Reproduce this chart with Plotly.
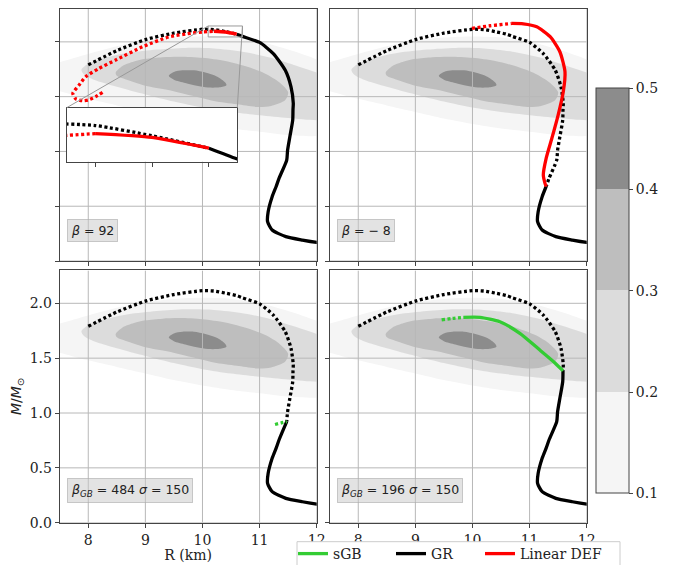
import plotly.graph_objects as go

# ---------------- data ----------------
# GR mass-radius curve, ordered from the high-mass end to the low-mass end
GR_R = [8.0, 8.5, 9.0, 9.5, 10.0, 10.2, 10.4, 10.6, 10.7, 11.0, 11.24, 11.45, 11.55, 11.59,
        11.585, 11.58, 11.53, 11.49, 11.475, 11.34, 11.29, 11.22, 11.15, 11.14, 11.22, 11.46,
        11.75, 12.0, 12.3]
GR_M = [1.79, 1.92, 2.02, 2.08, 2.115, 2.112, 2.093, 2.07, 2.05, 1.995, 1.893, 1.741, 1.59, 1.44,
        1.385, 1.285, 1.134, 1.01, 0.921, 0.754, 0.68, 0.587, 0.45, 0.359, 0.283, 0.222,
        0.191, 0.17, 0.155]
# index on GR curve where the dotted part ends in each panel
GR_SPLIT = [7, 20, 18, 14]

# Linear DEF, beta = 92 (panel 1)
DEF92_DOT_R = [8.25, 8.13, 8.0, 7.9, 7.78, 7.73, 7.84, 7.955, 8.19, 8.48, 8.95, 9.41, 9.82, 10.0, 10.2]
DEF92_DOT_M = [1.54, 1.50, 1.47, 1.463, 1.48, 1.53, 1.606, 1.682, 1.758, 1.834, 1.955, 2.045, 2.08, 2.09, 2.097]
DEF92_SOL_R = [10.2, 10.4, 10.6]
DEF92_SOL_M = [2.097, 2.09, 2.07]

# Linear DEF, beta = -8 (panel 2)
DEFM8_DOT_R = [9.99, 10.31, 10.69]
DEFM8_DOT_M = [2.123, 2.147, 2.168]
DEFM8_SOL_R = [10.69, 10.89, 11.125, 11.36, 11.53, 11.62, 11.59, 11.50, 11.39, 11.29, 11.24, 11.27, 11.29]
DEFM8_SOL_M = [2.168, 2.165, 2.138, 2.047, 1.91, 1.727, 1.545, 1.332, 1.12, 0.937, 0.785, 0.709, 0.68]

# sGB, beta_GB = 484 (panel 3)
SGB484_DOT_R = [11.27, 11.38, 11.475]
SGB484_DOT_M = [0.895, 0.91, 0.921]

# sGB, beta_GB = 196 (panel 4)
SGB196_DOT_R = [9.46, 9.65, 9.84]
SGB196_DOT_M = [1.848, 1.862, 1.872]
SGB196_SOL_R = [9.84, 10.13, 10.48, 10.83, 11.18, 11.42, 11.585]
SGB196_SOL_M = [1.872, 1.872, 1.832, 1.726, 1.574, 1.468, 1.385]

# probability-density contours (boundaries of filled levels)
C1_R = [7.0, 7.5, 8.0, 8.5, 9.0, 9.5, 10.0, 10.5, 11.0, 11.5, 12.0, 12.5, 12.8, 12.5, 12.0,
        11.5, 11.0, 10.5, 10.0, 9.5, 9.0, 8.5, 8.0, 7.5, 7.0, 6.8]
C1_M = [1.74, 1.815, 1.89, 1.96, 2.01, 2.04, 2.05, 2.04, 2.0, 1.93, 1.84, 1.72, 1.45, 1.18, 1.14,
        1.15, 1.18, 1.21, 1.25, 1.30, 1.36, 1.42, 1.48, 1.55, 1.62, 1.68]
C2_R = [7.88, 8.0, 8.3, 8.7, 9.2, 9.7, 10.2, 10.7, 11.2, 11.6, 12.0, 12.4, 12.6, 12.4, 12.0,
        11.5, 11.0, 10.5, 10.0, 9.5, 9.0, 8.5, 8.1, 7.93]
C2_M = [1.745, 1.80, 1.855, 1.90, 1.93, 1.945, 1.94, 1.91, 1.855, 1.79, 1.72, 1.62, 1.45, 1.30,
        1.285, 1.305, 1.33, 1.36, 1.40, 1.455, 1.52, 1.59, 1.655, 1.70]
C3_R = [8.48, 8.6, 8.8, 9.0, 9.3, 9.6, 10.0, 10.4, 10.8, 11.1, 11.35, 11.5, 11.45, 11.2, 11.0,
        10.6, 10.2, 9.8, 9.4, 9.0, 8.7, 8.5]
C3_M = [1.72, 1.78, 1.82, 1.845, 1.86, 1.865, 1.855, 1.825, 1.77, 1.71, 1.63, 1.54, 1.47, 1.415,
        1.405, 1.43, 1.46, 1.51, 1.56, 1.60, 1.65, 1.69]
C4_R = [9.41, 9.5, 9.65, 9.85, 10.05, 10.25, 10.40, 10.42, 10.3, 10.1, 9.9, 9.7, 9.5]
C4_M = [1.69, 1.725, 1.74, 1.74, 1.72, 1.685, 1.63, 1.605, 1.585, 1.583, 1.60, 1.625, 1.655]
LEVELS = [0.1, 0.2, 0.3, 0.4, 0.5]
LEVEL_COLORS = ["#f5f5f5", "#dcdcdc", "#bebebe", "#8c8c8c"]

PANEL_LABELS = ["<i>β</i> = 92", "<i>β</i> = − 8",
                "<i>β</i><sub><i>GB</i></sub> = 484 <i>σ</i> = 150",
                "<i>β</i><sub><i>GB</i></sub> = 196 <i>σ</i> = 150"]
LEGEND_NAMES = ["sGB", "GR", "Linear DEF"]
X_TICKS = [8, 9, 10, 11, 12]
Y_TICKS = [0.0, 0.5, 1.0, 1.5, 2.0]
X_RANGE = [7.5, 12]
Y_RANGE = [0, 2.3]
INSET_R = [10.1, 10.7]
INSET_M = [2.045, 2.145]

# ---------------- styling ----------------
W, H = 673, 565
GREEN, BLACK, RED = "#33cc33", "#000000", "#ff0000"
GRID = "#b8b8b8"
LW = 3.3
DOT = "3px,2.6px"
SERIF = "DejaVu Serif"
SANS = "DejaVu Sans"

XD = [[59.7 / W, 316.7 / W], [329.7 / W, 586.7 / W]]
YD = [[(H - 261) / H, (H - 9) / H], [(H - 522.7) / H, (H - 270.4) / H]]
panels = [("x", "y", XD[0], YD[0]), ("x2", "y2", XD[1], YD[0]),
          ("x3", "y3", XD[0], YD[1]), ("x4", "y4", XD[1], YD[1])]

fig = go.Figure()
contours = [(C1_R, C1_M), (C2_R, C2_M), (C3_R, C3_M), (C4_R, C4_M)]


def line(xs, ys, xa, ya, color, dash, name=None, legend=None):
    fig.add_trace(go.Scatter(
        x=xs, y=ys, xaxis=xa, yaxis=ya, mode="lines", name=name,
        showlegend=legend is not None, legend=legend or "legend",
        line=dict(color=color, width=LW, dash=dash, shape="spline", smoothing=0.6),
        hoverinfo="skip"))


# grid lines drawn above the filled contours but below the curves (as in the reference)
grid_x, grid_y = [], []
for t in X_TICKS:
    grid_x += [t, t, None]
    grid_y += [Y_RANGE[0], Y_RANGE[1], None]
for t in Y_TICKS:
    grid_x += [X_RANGE[0], X_RANGE[1], None]
    grid_y += [t, t, None]

for p, (xa, ya, xd, yd) in enumerate(panels):
    for (cr, cm), col in zip(contours, LEVEL_COLORS):
        fig.add_trace(go.Scatter(x=cr + [cr[0]], y=cm + [cm[0]], xaxis=xa, yaxis=ya,
                                 mode="lines", fill="toself", fillcolor=col,
                                 line=dict(width=0, color=col, shape="spline", smoothing=0.8),
                                 showlegend=False, hoverinfo="skip"))
    fig.add_trace(go.Scatter(x=grid_x, y=grid_y, xaxis=xa, yaxis=ya, mode="lines",
                             line=dict(color=GRID, width=1), showlegend=False,
                             hoverinfo="skip", cliponaxis=True))
    s = GR_SPLIT[p]
    line(GR_R[:s + 1], GR_M[:s + 1], xa, ya, BLACK, DOT)
    line(GR_R[s:], GR_M[s:], xa, ya, BLACK, "solid", LEGEND_NAMES[1],
         "legend2" if p == 0 else None)

line(DEF92_DOT_R, DEF92_DOT_M, "x", "y", RED, DOT)
line(DEF92_SOL_R, DEF92_SOL_M, "x", "y", RED, "solid", LEGEND_NAMES[2], "legend3")
line(DEFM8_DOT_R, DEFM8_DOT_M, "x2", "y2", RED, DOT)
line(DEFM8_SOL_R, DEFM8_SOL_M, "x2", "y2", RED, "solid")
line(SGB484_DOT_R, SGB484_DOT_M, "x3", "y3", GREEN, DOT)
line(SGB196_DOT_R, SGB196_DOT_M, "x4", "y4", GREEN, DOT)
line(SGB196_SOL_R, SGB196_SOL_M, "x4", "y4", GREEN, "solid", LEGEND_NAMES[0], "legend")

# inset (zoom of panel 1)
s = GR_SPLIT[0]
line(GR_R[:s + 1], GR_M[:s + 1], "x5", "y5", BLACK, DOT)
line(GR_R[s:], GR_M[s:], "x5", "y5", BLACK, "solid")
line(DEF92_DOT_R, DEF92_DOT_M, "x5", "y5", RED, DOT)
line(DEF92_SOL_R, DEF92_SOL_M, "x5", "y5", RED, "solid")

# colorbar
cs = []
n = len(LEVEL_COLORS)
for i, c in enumerate(LEVEL_COLORS):
    cs += [[i / n, c], [(i + 1) / n, c]]
fig.add_trace(go.Scatter(
    x=[None, None], y=[None, None], mode="markers", showlegend=False, hoverinfo="skip",
    marker=dict(color=[LEVELS[0], LEVELS[-1]], cmin=LEVELS[0], cmax=LEVELS[-1], colorscale=cs,
                showscale=True,
                colorbar=dict(x=595.7 / W, xanchor="left", y=(H - 290.8) / H, yanchor="middle",
                              len=405 / H, lenmode="fraction", thickness=33, xpad=0, ypad=0,
                              outlinewidth=1, outlinecolor="#444", tickvals=LEVELS,
                              ticktext=[f"{v:.1f}" for v in LEVELS], ticks="outside", ticklen=4,
                              tickcolor="#444", tickfont=dict(family=SERIF, size=14, color="#222"))),
))

axis_common = dict(showgrid=False, showline=True, mirror=True,
                   linecolor="#444", linewidth=1, ticks="outside", ticklen=4, tickcolor="#444",
                   zeroline=False, automargin=False,
                   tickfont=dict(family=SERIF, size=14, color="#222"))
layout = dict(width=W, height=H, margin=dict(l=0, r=0, t=0, b=0, autoexpand=False),
              plot_bgcolor="white", paper_bgcolor="white", showlegend=True)
for p, (xa, ya, xd, yd) in enumerate(panels):
    xk = "xaxis" + xa[1:]
    yk = "yaxis" + ya[1:]
    layout[xk] = dict(axis_common, domain=xd, range=X_RANGE, tickvals=X_TICKS,
                      showticklabels=(p >= 2), anchor=ya)
    layout[yk] = dict(axis_common, domain=yd, range=Y_RANGE, tickvals=Y_TICKS,
                      tickformat=".1f", showticklabels=(p == 2), anchor=xa)
layout["xaxis3"]["title"] = dict(text="R (km)", font=dict(family=SERIF, size=14, color="#222"),
                                 standoff=3)
layout["yaxis3"]["title"] = dict(text="<i>M</i>/<i>M</i><sub>⊙</sub>",
                                 font=dict(family=SANS, size=14, color="#222"), standoff=4)

IX = [66.7 / W, 237.3 / W]
IY = [(H - 161.7) / H, (H - 107.7) / H]
layout["xaxis5"] = dict(domain=IX, range=INSET_R, anchor="y5", showgrid=False, showline=True,
                        mirror=True, linecolor="#444", linewidth=1, ticks="outside", ticklen=4,
                        tickcolor="#444", tickvals=[10.2, 10.4, 10.6], showticklabels=False,
                        zeroline=False)
layout["yaxis5"] = dict(domain=IY, range=INSET_M, anchor="x5", showgrid=False, showline=True,
                        mirror=True, linecolor="#444", linewidth=1, ticks="",
                        showticklabels=False, zeroline=False)

# three single-entry legends placed along one row inside a common frame
LEG_X = [293 / W, 391 / W, 480 / W]
for key, lx in zip(["legend", "legend2", "legend3"], LEG_X):
    layout[key] = dict(x=lx, y=-5 / H, xanchor="left", yanchor="bottom", orientation="h",
                       bgcolor="rgba(0,0,0,0)", borderwidth=0,
                       font=dict(family=SERIF, size=14, color="#222"))

# panel label boxes
annotations = []
for p, (xa, ya, xd, yd) in enumerate(panels):
    annotations.append(dict(text=PANEL_LABELS[p], xref=xa + " domain", yref=ya + " domain",
                            x=0.03, y=0.077, xanchor="left", yanchor="bottom", showarrow=False,
                            font=dict(family=SANS, size=12.5, color="#222"),
                            bgcolor="rgba(200,200,200,0.5)", bordercolor="rgba(170,170,170,0.6)",
                            borderwidth=1, borderpad=3))
layout["annotations"] = annotations


def to_paper(x, y):
    fx = XD[0][0] + (x - X_RANGE[0]) / (X_RANGE[1] - X_RANGE[0]) * (XD[0][1] - XD[0][0])
    fy = YD[0][0] + (y - Y_RANGE[0]) / (Y_RANGE[1] - Y_RANGE[0]) * (YD[0][1] - YD[0][0])
    return fx, fy


ul = to_paper(INSET_R[0], INSET_M[1])
ur = to_paper(INSET_R[1], INSET_M[1])
layout["shapes"] = [
    dict(type="rect", xref="x", yref="y", x0=INSET_R[0], x1=INSET_R[1], y0=INSET_M[0],
         y1=INSET_M[1], line=dict(color="#999999", width=1)),
    dict(type="line", xref="paper", yref="paper", x0=ul[0], y0=ul[1], x1=IX[0], y1=IY[1],
         line=dict(color="#999999", width=1)),
    dict(type="line", xref="paper", yref="paper", x0=ur[0], y0=ur[1], x1=IX[1], y1=IY[1],
         line=dict(color="#999999", width=1)),
    # legend frame
    dict(type="rect", xref="paper", yref="paper", x0=297 / W, x1=620 / W, y0=-0.05,
         y1=(H - 541.7) / H, line=dict(color="#cccccc", width=1), fillcolor="white",
         layer="above"),
]
fig.update_layout(**layout)
fig.write_html("out.html", config={"displayModeBar": False},
               post_script="document.body.style.margin='0px';document.body.style.overflow='hidden';")
